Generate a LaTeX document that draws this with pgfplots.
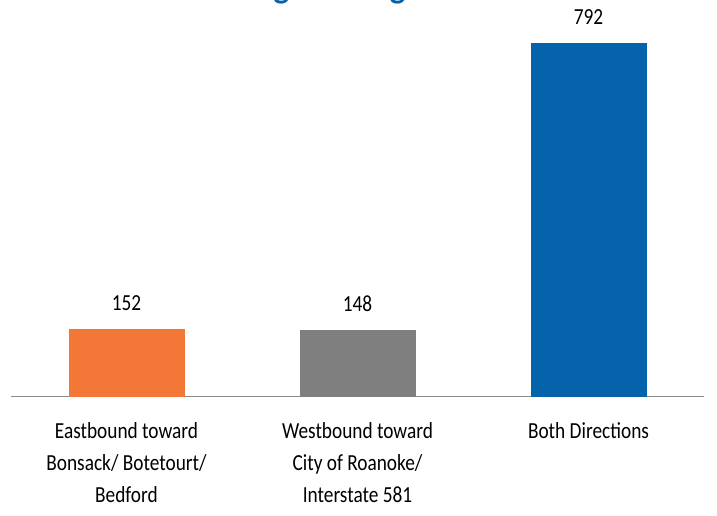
\documentclass[border=0pt]{standalone}
\usepackage{fontspec}
\setmainfont{Carlito}
\newfontfamily\labelfont{Carlito}[FakeStretch=0.84]
\usepackage{pgfplots}
\pgfplotsset{compat=1.18}
\definecolor{cOrange}{RGB}{243,120,55}
\definecolor{cGray}{RGB}{127,127,127}
\definecolor{cBlue}{RGB}{5,99,172}
\definecolor{cAxis}{RGB}{140,140,140}
\begin{document}
\begin{tikzpicture}
\begin{axis}[
  at={(11pt,118.5pt)}, anchor=south west,
  scale only axis, width=693pt, height=393.3pt,
  xmin=-0.5, xmax=2.5, ymin=0, ymax=880,
  clip=false,
  hide y axis,
  axis x line=bottom,
  x axis line style={cAxis, line width=1.1pt, -},
  xtick={0,1,2},
  xticklabels={{Eastbound toward\\Bonsack/ Botetourt/\\Bedford},{Westbound toward\\City of Roanoke/\\Interstate 581},{Both Directions}},
  major tick length=0pt,
  xticklabel style={font=\labelfont\fontsize{23}{32}\selectfont, align=center, anchor=north, inner sep=0pt, yshift=-26pt, text=black},
  ybar, bar width=116pt, bar shift=0pt,
  /pgf/number format/assume math mode=true,
  nodes near coords,
  every node near coord/.append style={font=\labelfont\fontsize{23}{28}\selectfont, anchor=base, inner sep=0pt, yshift=18.5pt, text=black},
]
\addplot[fill=cOrange, draw=none] coordinates {(0,152)};
\addplot[fill=cGray, draw=none] coordinates {(1,148)};
\addplot[fill=cBlue, draw=none] coordinates {(2,792)};
\end{axis}
\node[font=\bfseries\fontsize{33}{40}\selectfont, text=cBlue, anchor=base, inner sep=0pt] at (357pt,516.5pt) {Longest Congestion};
\pgfresetboundingbox
\useasboundingbox (0,0) rectangle (717pt,515pt);
\end{tikzpicture}
\end{document}
